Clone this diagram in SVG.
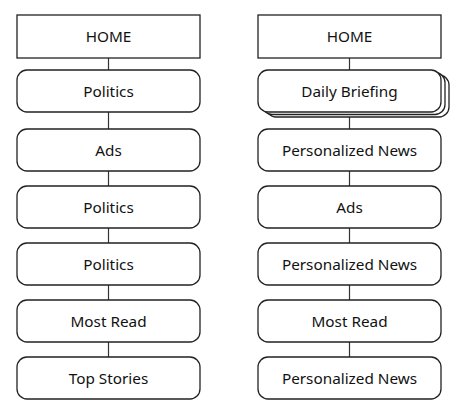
<svg xmlns="http://www.w3.org/2000/svg" width="461" height="416" viewBox="0 0 461 416">
<style>
.box{fill:#fff;stroke:#222;stroke-width:1.3}
.lbl{font-family:"Noto Sans","Liberation Sans",sans-serif;font-size:15.3px;fill:#111;text-anchor:middle}
.conn line{stroke:#333;stroke-width:1.2}
</style>
<rect width="461" height="416" fill="#fff"/>
<g class="conn">
<line x1="108.5" y1="58" x2="108.5" y2="70"/>
<line x1="108.5" y1="112" x2="108.5" y2="129"/>
<line x1="108.5" y1="171" x2="108.5" y2="186"/>
<line x1="108.5" y1="228" x2="108.5" y2="243"/>
<line x1="108.5" y1="285" x2="108.5" y2="300"/>
<line x1="108.5" y1="342" x2="108.5" y2="357"/>
<line x1="349.5" y1="58" x2="349.5" y2="70"/>
<line x1="349.5" y1="117" x2="349.5" y2="129"/>
<line x1="349.5" y1="171" x2="349.5" y2="186"/>
<line x1="349.5" y1="228" x2="349.5" y2="243"/>
<line x1="349.5" y1="285" x2="349.5" y2="300"/>
<line x1="349.5" y1="342" x2="349.5" y2="357"/>
</g>
<g id="l-home"><rect class="box" x="17" y="15" width="183" height="43"/><text class="lbl" x="108.5" y="41.5">HOME</text></g>
<g id="l-politics1"><rect class="box" x="17" y="70" width="183" height="42" rx="10"/><text class="lbl" x="108.5" y="96.5">Politics</text></g>
<g id="l-ads"><rect class="box" x="17" y="129" width="183" height="42" rx="10"/><text class="lbl" x="108.5" y="155.5">Ads</text></g>
<g id="l-politics2"><rect class="box" x="17" y="186" width="183" height="42" rx="10"/><text class="lbl" x="108.5" y="212.5">Politics</text></g>
<g id="l-politics3"><rect class="box" x="17" y="243" width="183" height="42" rx="10"/><text class="lbl" x="108.5" y="269.5">Politics</text></g>
<g id="l-mostread"><rect class="box" x="17" y="300" width="183" height="42" rx="10"/><text class="lbl" x="108.5" y="326.5">Most Read</text></g>
<g id="l-topstories"><rect class="box" x="17" y="357" width="183" height="42" rx="10"/><text class="lbl" x="108.5" y="383.5">Top Stories</text></g>
<g id="r-home"><rect class="box" x="258" y="15" width="183" height="43"/><text class="lbl" x="349.5" y="41.5">HOME</text></g>
<g id="r-daily">
<rect class="box" x="266" y="75" width="183" height="42" rx="10"/>
<rect class="box" x="262" y="72.5" width="183" height="42" rx="10"/>
<rect class="box" x="258" y="70" width="183" height="42" rx="10"/>
<text class="lbl" x="349.5" y="96.5">Daily Briefing</text></g>
<g id="r-pn1"><rect class="box" x="258" y="129" width="183" height="42" rx="10"/><text class="lbl" x="349.5" y="155.5">Personalized News</text></g>
<g id="r-ads"><rect class="box" x="258" y="186" width="183" height="42" rx="10"/><text class="lbl" x="349.5" y="212.5">Ads</text></g>
<g id="r-pn2"><rect class="box" x="258" y="243" width="183" height="42" rx="10"/><text class="lbl" x="349.5" y="269.5">Personalized News</text></g>
<g id="r-mostread"><rect class="box" x="258" y="300" width="183" height="42" rx="10"/><text class="lbl" x="349.5" y="326.5">Most Read</text></g>
<g id="r-pn3"><rect class="box" x="258" y="357" width="183" height="42" rx="10"/><text class="lbl" x="349.5" y="383.5">Personalized News</text></g>
</svg>
